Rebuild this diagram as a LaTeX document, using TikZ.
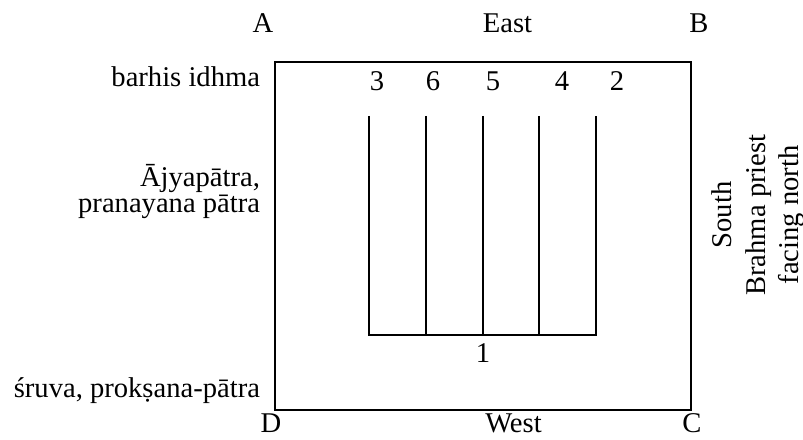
\documentclass[tikz,border=0pt]{standalone}
\usepackage{fontspec}
\setmainfont{Liberation Serif}
\begin{document}
\begin{tikzpicture}[x=1pt,y=1pt,
  lbl/.style={font=\fontsize{28.6}{25}\selectfont, inner sep=0pt, outer sep=0pt},
  frame/.style={line width=1.6pt}]
\useasboundingbox (0,0) rectangle (803,439);
% outer square
\coordinate (pA) at (275,377);
\coordinate (pC) at (691,29);
\draw[frame] (pA) rectangle (pC);
% comb of sticks
\foreach \n/\x in {t1/369,t2/426,t3/483,t4/539,t5/596}{
  \coordinate (\n top) at (\x,323);
  \coordinate (\n bot) at (\x,104);
}
\draw[frame] (t1top) -- (t1bot) -- (t5bot) -- (t5top);
\draw[frame] (t2top) -- (t2bot);
\draw[frame] (t3top) -- (t3bot);
\draw[frame] (t4top) -- (t4bot);
% corner and side labels
\node[lbl, anchor=base] (A) at (263,406) {A};
\node[lbl, anchor=base] (east) at (507.5,406) {East};
\node[lbl, anchor=base] (B) at (699,406) {B};
\node[lbl, anchor=base, text depth=0pt] (D) at (271,6) {D};
\node[lbl, anchor=base, text depth=0pt] (west) at (513.5,6) {West};
\node[lbl, anchor=base, text depth=0pt] (C) at (692,6) {C};
% numbers
\node[lbl, anchor=base] (n3) at (377,348) {3};
\node[lbl, anchor=base] (n6) at (433,348) {6};
\node[lbl, anchor=base] (n5) at (493,348) {5};
\node[lbl, anchor=base] (n4) at (562,348) {4};
\node[lbl, anchor=base] (n2) at (617,348) {2};
\node[lbl, anchor=base] (n1) at (483,76) {1};
% left labels
\node[lbl, anchor=base east] (barhis) at (260,352) {barhis idhma};
\node[lbl, anchor=base east, text depth=0pt] (ajya) at (260,252) {Ājyapātra,};
\node[lbl, anchor=base east, text height=14pt] (pran) at (260,226) {pranayana pātra};
\node[lbl, anchor=base east] (sruva) at (260,41) {śruva, prokṣana-pātra};
% right rotated labels
\node[lbl, anchor=base, rotate=90] (south) at (731,224) {South};
\node[lbl, anchor=base, rotate=90] (brahma) at (765,224) {Brahma priest};
\node[lbl, anchor=base, rotate=90, text depth=0pt] (facing) at (798,224) {facing north};
\end{tikzpicture}
\end{document}
